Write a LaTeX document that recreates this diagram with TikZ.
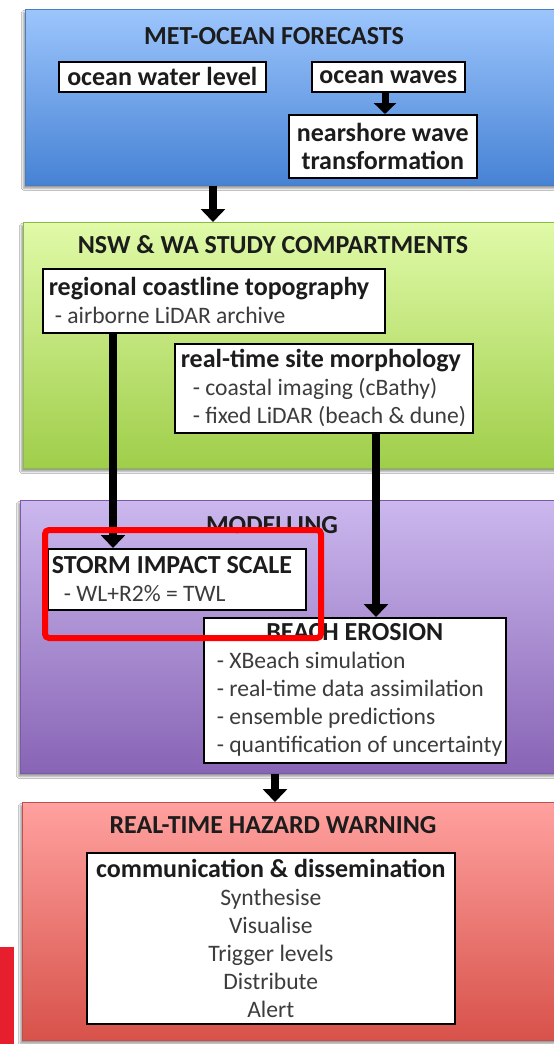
\documentclass[tikz,border=0pt]{standalone}
\usepackage{fontspec}
\setmainfont{Carlito}
\usetikzlibrary{arrows.meta,shadows.blur}
\definecolor{bluetop}{HTML}{9CC5FC}
\definecolor{bluebot}{HTML}{4682D4}
\definecolor{blueedge}{HTML}{4A7CC0}
\definecolor{greentop}{HTML}{E0FAA8}
\definecolor{greenbot}{HTML}{9FCE4A}
\definecolor{greenedge}{HTML}{8CBB45}
\definecolor{purptop}{HTML}{CBB8EE}
\definecolor{purpbot}{HTML}{8864B5}
\definecolor{purpedge}{HTML}{7A5AA8}
\definecolor{redtop}{HTML}{FFA19F}
\definecolor{redbot}{HTML}{D7524A}
\definecolor{rededge}{HTML}{C0504D}
\definecolor{ttlcol}{HTML}{1C1C1C}
\definecolor{itmcol}{HTML}{3C3C3C}
\definecolor{hilite}{HTML}{FF0000}
\definecolor{barred}{HTML}{E61E2D}
\tikzset{
  panel/.style={draw=#1edge, line width=0.8pt, top color=#1top, bottom color=#1bot,
    anchor=north west, inner sep=0pt,
    blur shadow={shadow xshift=-2pt, shadow yshift=-3pt, shadow blur steps=6, shadow opacity=40}},
  box/.style={draw=black, line width=1.6pt, fill=white, anchor=north west, inner ysep=0pt, inner xsep=6pt,
    font=\fontsize{23.6}{28}\selectfont, text=ttlcol},
  ptitle/.style={font=\fontsize{26}{28}\selectfont\bfseries, text=ttlcol, inner sep=0pt},
  arr/.style={line width=8pt, draw=black, -{Triangle[width=24pt,length=13pt]}},
}
\newcommand{\itm}[1]{\mbox{\color{itmcol}#1}}
\newcommand{\hd}[1]{\mbox{\fontsize{26}{28}\selectfont\bfseries #1}}
\begin{document}
\begin{tikzpicture}[x=1pt,y=-1pt]
\clip (0,0) rectangle (554,1044);
\fill[white] (0,0) rectangle (554,1044);
% panels
\node[panel=blue, minimum width=545pt, minimum height=176pt] (blue) at (25,9) {};
\node[panel=green, minimum width=547pt, minimum height=246pt] (green) at (23,222) {};
\node[panel=purp, minimum width=550pt, minimum height=273pt] (purple) at (20,500) {};
\node[panel=red, minimum width=548pt, minimum height=238pt] (red) at (22,802) {};
% titles
\node[ptitle] (t1) at (274,36) {MET-OCEAN FORECASTS};
\node[ptitle] (t2) at (273,245) {NSW \& WA STUDY COMPARTMENTS};
\node[ptitle] (t3) at (272,525) {MODELLING};
\node[ptitle] (t4) at (273,825) {REAL-TIME HAZARD WARNING};
% blue boxes
\node[box, minimum width=207pt, minimum height=30pt] (owl) at (58,61) {\hd{ocean water level}};
\node[box, minimum width=153pt, minimum height=30pt] (ow) at (311,61) {\hd{ocean waves}};
\node[box, minimum width=188pt, minimum height=63pt, align=flush center] (nwt) at (288,114) {\hd{nearshore wave}\\\hd{transformation}};
% green boxes
\node[box, minimum height=64pt, text width=330pt, align=flush left, inner xsep=6pt] (reg) at (42,268)
  {\hd{regional coastline topography}\\\hspace*{6pt}\itm{- airborne LiDAR archive}};
\node[box, minimum height=89pt, text width=286pt, align=flush left] (rts) at (174,343)
  {\hd{real-time site morphology}\\\hspace*{12pt}\itm{- coastal imaging (cBathy)}\\\hspace*{12pt}\itm{- fixed LiDAR (beach \& dune)}};
% purple boxes
\node[box, minimum height=61pt, text width=250pt, align=flush left, inner xsep=4pt] (storm) at (47,548)
  {\hd{STORM IMPACT SCALE}\\\hspace*{12pt}\itm{- WL+R2\% = TWL}};
\node[box, minimum height=145pt, text width=290pt, align=flush left] (beach) at (203,617)
  {{\centering\hd{BEACH EROSION}\par}
   \raggedright\hspace*{7pt}\itm{- XBeach simulation}\\
   \hspace*{7pt}\itm{- real-time data assimilation}\\
   \hspace*{7pt}\itm{- ensemble predictions}\\
   \hspace*{7pt}\itm{- quantification of uncertainty}};
% red box
\node[box, minimum width=368pt, minimum height=171pt, align=flush center] (comm) at (86,852)
  {\hd{communication \& dissemination}\\\itm{Synthesise}\\\itm{Visualise}\\\itm{Trigger levels}\\\itm{Distribute}\\\itm{Alert}};
% arrows
\draw[arr] (blue.south -| 213,0) -- (green.north -| 213,0);
\draw[arr, line width=7pt, -{Triangle[width=22pt,length=11pt]}] (ow.south -| 385,0) -- (nwt.north -| 385,0);
\draw[arr] (reg.south -| 113,0) -- (storm.north -| 113,0);
\draw[arr] (rts.south -| 376,0) -- (beach.north -| 376,0);
\draw[arr] (purple.south -| 275,0) -- (red.north -| 275,0);
% highlight and bar
\node[draw=hilite, line width=6pt, rounded corners=4pt, minimum width=276pt, minimum height=108pt, anchor=north west, inner sep=0pt] (hl) at (42,527) {};
\node[fill=barred, minimum width=14pt, minimum height=97pt, anchor=north west, inner sep=0pt] (bar) at (0,947) {};
\end{tikzpicture}
\end{document}
